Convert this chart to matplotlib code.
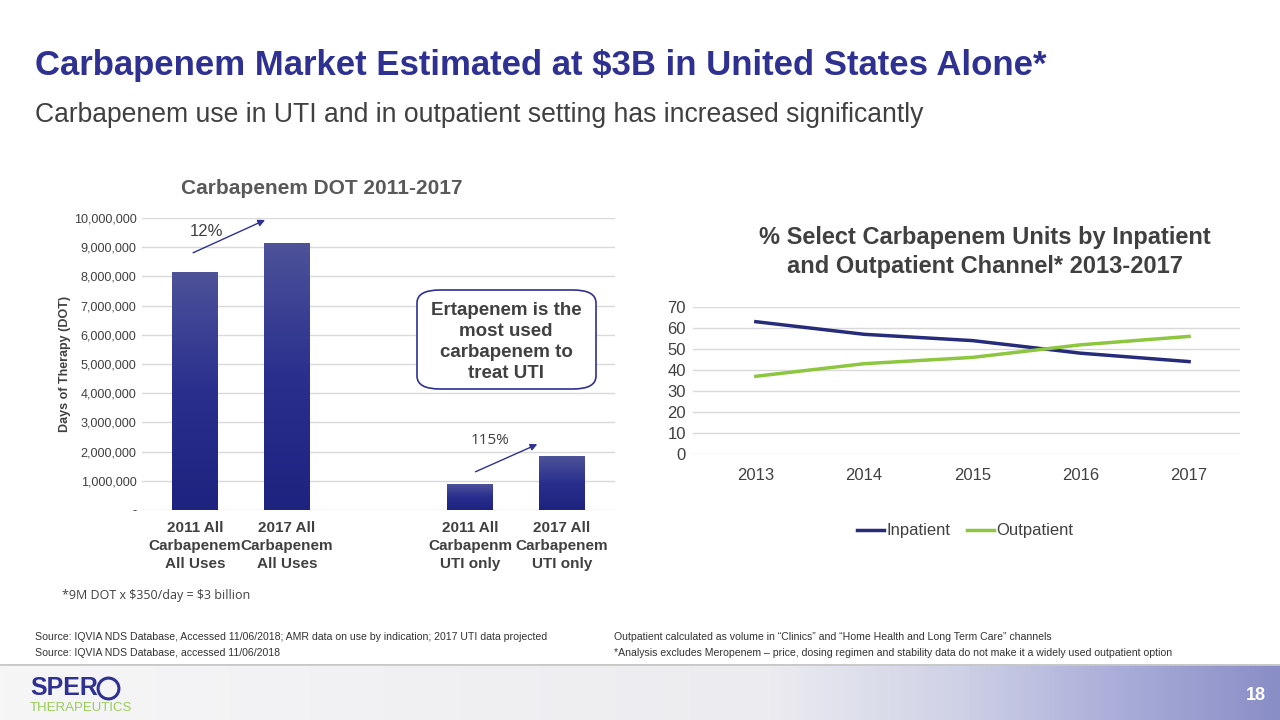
import numpy as np
import matplotlib.pyplot as plt
from matplotlib.patches import FancyBboxPatch
from matplotlib.lines import Line2D
from matplotlib.ticker import FuncFormatter

plt.rcParams['font.family'] = ['Liberation Sans', 'DejaVu Sans']

# bar chart data
bar_labels = ['2011 All\nCarbapenem\nAll Uses', '2017 All\nCarbapenem\nAll Uses',
              '2011 All\nCarbapenm\nUTI only', '2017 All\nCarbapenem\nUTI only']
bar_pos = [0, 1, 3, 4]
bar_values = [8150000, 9110000, 860000, 1820000]

# line chart data
years = [2013, 2014, 2015, 2016, 2017]
inpatient = [63, 57, 54, 48, 44]
outpatient = [37, 43, 46, 52, 56]

NAVY = '#2e3192'
GREY = '#404040'
W, H = 1280, 720

fig = plt.figure(figsize=(12.8, 7.2), dpi=100)
fig.patch.set_facecolor('white')

def fx(px):
    return px / W

def fy(py):
    return 1 - py / H

# titles
fig.text(fx(35), fy(66), 'Carbapenem Market Estimated at $3B in United States Alone*',
         fontsize=25, fontweight='bold', color=NAVY, va='center', ha='left')
fig.text(fx(35), fy(115), 'Carbapenem use in UTI and in outpatient setting has increased significantly',
         fontsize=19.1, color=GREY, va='center', ha='left')

# ---- bar chart ----
ax1 = fig.add_axes([fx(142), fy(510), fx(615 - 142), (510 - 218) / H])
ax1.set_xlim(-0.58, 4.58)
ax1.set_ylim(0, 10000000)
ax1.set_yticks(np.arange(0, 10000001, 1000000))
ax1.yaxis.set_major_formatter(FuncFormatter(lambda v, p: '-' if v == 0 else f'{int(v):,}'))
ax1.grid(axis='y', color='#d9d9d9', linewidth=1)
ax1.set_axisbelow(True)
for s in ax1.spines.values():
    s.set_visible(False)
ax1.tick_params(axis='y', length=0, labelsize=9.1, labelcolor=GREY, pad=4)
ax1.tick_params(axis='x', length=0, pad=8)
ax1.set_xticks(bar_pos)
ax1.set_xticklabels(bar_labels, fontsize=11, fontweight='bold', color=GREY, linespacing=1.35)
ax1.set_ylabel('Days of Therapy (DOT)', fontsize=9, fontweight='bold', color=GREY, labelpad=2)

# gradient bars
grad = np.linspace(0, 1, 100).reshape(-1, 1)
cmap = plt.matplotlib.colors.LinearSegmentedColormap.from_list('bar', ['#1e2380', '#2a2f8e', '#4d5299'])
bw = 0.5
for xp, v in zip(bar_pos, bar_values):
    ax1.imshow(grad, extent=[xp - bw / 2, xp + bw / 2, 0, v], origin='lower',
               aspect='auto', cmap=cmap, zorder=2)
ax1.set_xlim(-0.58, 4.58)
ax1.set_ylim(0, 10000000)

fig.text(fx(322), fy(188), 'Carbapenem DOT 2011-2017', fontsize=15, fontweight='bold',
         color='#595959', ha='center', va='center')

# growth arrows
ax1.annotate('', xy=(0.79, 9970000), xytext=(-0.05, 8770000),
             arrowprops=dict(arrowstyle='-|>', color=NAVY, lw=1, mutation_scale=10))
ax1.text(0.12, 9550000, '12%', fontsize=12, color=GREY, ha='center', va='center')
ax1.annotate('', xy=(3.76, 2290000), xytext=(3.03, 1270000),
             arrowprops=dict(arrowstyle='-|>', color=NAVY, lw=1, mutation_scale=10))
ax1.text(3.22, 2370000, '115%', fontsize=11, color=GREY, ha='center', va='center',
         family=['Open Sans', 'DejaVu Sans'])

# callout box
box = FancyBboxPatch((fx(417), fy(389)), fx(596 - 417), (389 - 290) / H,
                     boxstyle='round,pad=0,rounding_size=0.018', transform=fig.transFigure,
                     facecolor='white', edgecolor=NAVY, linewidth=1.2, zorder=5)
fig.patches.append(box)
fig.text(fx(506), fy(342), 'Ertapenem is the\nmost used\ncarbapenem to\ntreat UTI',
         fontsize=13.5, fontweight='bold', color=GREY, ha='center', va='center',
         linespacing=1.3, zorder=6)

fig.text(fx(62), fy(596), '*9M DOT x \\$350/day = \\$3 billion', fontsize=9, color=GREY,
         ha='left', va='center', family=['Open Sans', 'DejaVu Sans'])

# ---- line chart ----
ax2 = fig.add_axes([fx(693), fy(454), fx(1240 - 693), (454 - 307) / H])
ax2.plot(years, inpatient, color='#262b7a', lw=2.5, label='Inpatient')
ax2.plot(years, outpatient, color='#8dc63f', lw=2.5, label='Outpatient')
ax2.set_xlim(2012.42, 2017.47)
ax2.set_ylim(0, 70)
ax2.set_yticks(range(0, 71, 10))
ax2.set_xticks(years)
ax2.grid(axis='y', color='#d9d9d9', linewidth=1)
ax2.set_axisbelow(True)
for s in ax2.spines.values():
    s.set_visible(False)
ax2.tick_params(length=0, labelsize=12, labelcolor=GREY)
ax2.tick_params(axis='y', pad=5)
ax2.tick_params(axis='x', pad=10)
ax2.legend(loc='center', bbox_to_anchor=(fx(965), fy(531)), bbox_transform=fig.transFigure,
           ncol=2, frameon=False, fontsize=12, handlelength=1.6, handletextpad=0.15,
           columnspacing=1.0, labelcolor=GREY)
fig.text(fx(985), fy(252), '% Select Carbapenem Units by Inpatient\nand Outpatient Channel* 2013-2017',
         fontsize=17, fontweight='bold', color=GREY, ha='center', va='center', linespacing=1.3)

# ---- footnotes ----
fig.text(fx(35), fy(637), 'Source: IQVIA NDS Database, Accessed 11/06/2018; AMR data on use by indication; 2017 UTI data projected',
         fontsize=7.6, color='#333333', ha='left', va='center')
fig.text(fx(35), fy(653), 'Source: IQVIA NDS Database, accessed 11/06/2018',
         fontsize=7.6, color='#333333', ha='left', va='center')
fig.text(fx(614), fy(637), 'Outpatient calculated as volume in \u201cClinics\u201d and \u201cHome Health and Long Term Care\u201d channels',
         fontsize=7.6, color='#333333', ha='left', va='center')
fig.text(fx(614), fy(653), '*Analysis excludes Meropenem \u2013 price, dosing regimen and stability data do not make it a widely used outpatient option',
         fontsize=7.6, color='#333333', ha='left', va='center')

# ---- footer band ----
axf = fig.add_axes([0, 0, 1, 56 / H])
band = np.linspace(0, 1, 256).reshape(1, -1)
fcmap = plt.matplotlib.colors.LinearSegmentedColormap.from_list(
    'foot', [(0, '#f6f6f7'), (0.6, '#ececf0'), (0.75, '#cfd1e6'), (0.88, '#a8acd8'), (1, '#8a8ec6')])
axf.imshow(band, extent=[0, 1, 0, 1], aspect='auto', cmap=fcmap)
axf.axhline(1, color='#c8c8c8', lw=2)
axf.set_xlim(0, 1)
axf.set_ylim(0, 1)
axf.axis('off')
fig.text(fx(30), fy(688), 'SPER', fontsize=18, fontweight='bold', color=NAVY, ha='left', va='center')
fig.add_artist(Line2D([fx(108)], [fy(688)], marker='o', markersize=15, fillstyle='none',
                      markeredgecolor=NAVY, markeredgewidth=2.2, transform=fig.transFigure))
fig.text(fx(30), fy(708), 'THERAPEUTICS', fontsize=9.5, color='#9acb5a', ha='left', va='center')
fig.text(fx(1256), fy(695), '18', fontsize=13, fontweight='bold', color='white', ha='center', va='center')

fig.savefig('out.png', dpi=100)
